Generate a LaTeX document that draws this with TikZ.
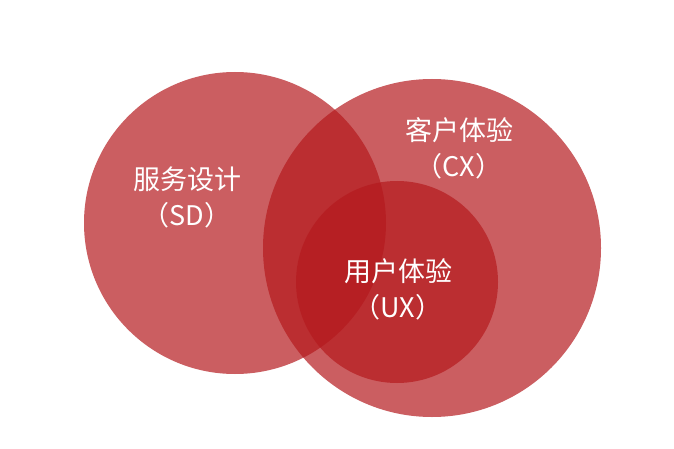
\documentclass[tikz,border=0pt]{standalone}
\usepackage{fontspec}
\setmainfont{Noto Sans CJK SC}
\definecolor{vennred}{RGB}{181,26,30}
\begin{document}
\begin{tikzpicture}[x=1pt,y=-1pt]
	% `set' is one circle of the diagram, `tag' its white label.
	\tikzstyle{set} = [fill=vennred,fill opacity=0.7]
	\tikzstyle{tag} = [text=white,font=\fontsize{27}{36}\selectfont,align=center]
	%
	\useasboundingbox[fill=white] (0,0) rectangle (674,449);
	\fill[set] (235,223) circle[radius=151] coordinate (sd);
	\fill[set] (432,248) circle[radius=169] coordinate (cx);
	\fill[set] (397,282) circle[radius=101] coordinate (ux);
	% Labels.
	\node[tag] (sdtag) at (187,197) {服务设计\\（SD）};
	\node[tag] (cxtag) at (459,148) {客户体验\\（CX）};
	\node[tag] (uxtag) at (398,289) {用户体验\\（UX）};
\end{tikzpicture}
\end{document}
